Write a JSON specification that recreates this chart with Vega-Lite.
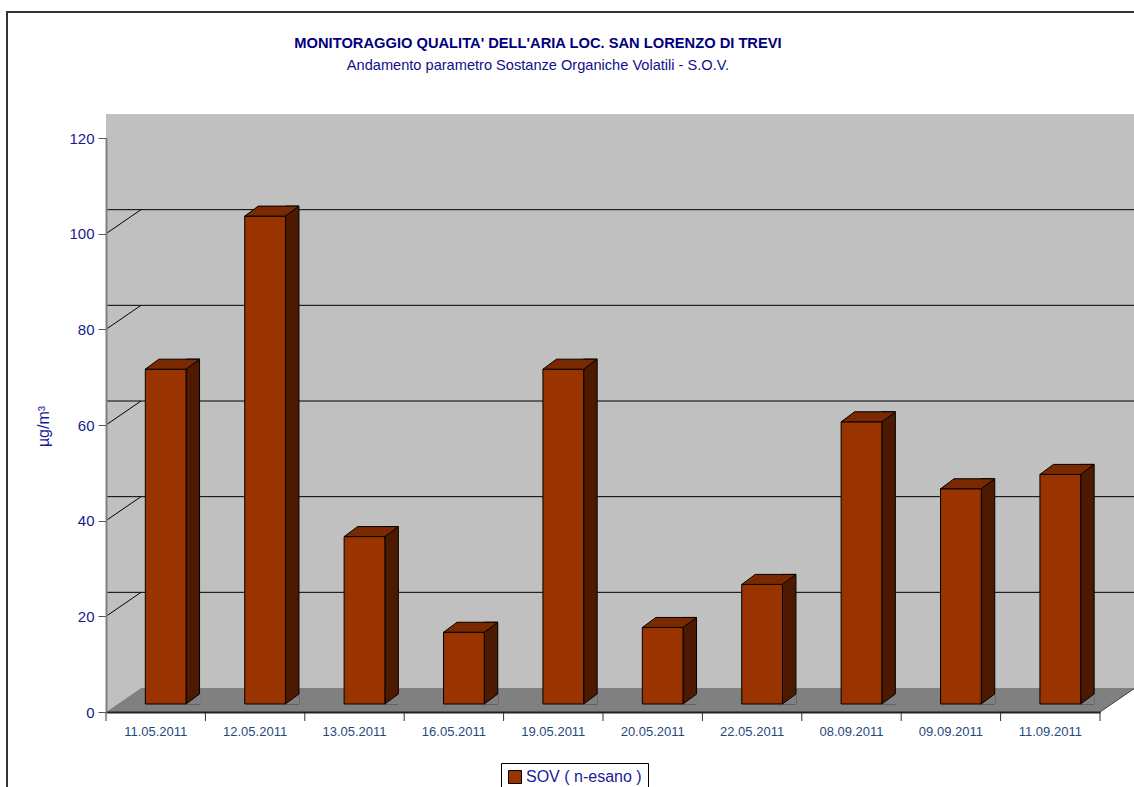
{
  "$schema": "https://vega.github.io/schema/vega-lite/v6.json",
  "width": 994,
  "height": 574,
  "autosize": {"type": "none"},
  "padding": {"left": 106, "top": 138, "right": 34, "bottom": 75},
  "background": "white",
  "config": {"font": "Liberation Sans", "view": {"stroke": null}},
  "title": {
    "text": "MONITORAGGIO QUALITA' DELL'ARIA LOC. SAN LORENZO DI TREVI",
    "subtitle": "Andamento parametro Sostanze Organiche Volatili - S.O.V.",
    "anchor": "middle",
    "dx": -65,
    "font": "Liberation Sans",
    "fontSize": 14.7,
    "fontWeight": "bold",
    "color": "#000080",
    "subtitleFont": "Liberation Sans",
    "subtitleFontSize": 14.6,
    "subtitleColor": "#10108a",
    "subtitlePadding": 7,
    "offset": -64.5
  },
  "data": {
    "values": [
      {"date": "11.05.2011", "value": 70, "series": "SOV ( n-esano )"},
      {"date": "12.05.2011", "value": 102, "series": "SOV ( n-esano )"},
      {"date": "13.05.2011", "value": 35, "series": "SOV ( n-esano )"},
      {"date": "16.05.2011", "value": 15, "series": "SOV ( n-esano )"},
      {"date": "19.05.2011", "value": 70, "series": "SOV ( n-esano )"},
      {"date": "20.05.2011", "value": 16, "series": "SOV ( n-esano )"},
      {"date": "22.05.2011", "value": 25, "series": "SOV ( n-esano )"},
      {"date": "08.09.2011", "value": 59, "series": "SOV ( n-esano )"},
      {"date": "09.09.2011", "value": 45, "series": "SOV ( n-esano )"},
      {"date": "11.09.2011", "value": 48, "series": "SOV ( n-esano )"}
    ]
  },
  "layer": [
    {
      "data": {"values": [{"k": 1}]},
      "mark": {"type": "rect", "fill": "#c0c0c0", "xOffset": 35, "x2Offset": 35, "yOffset": -24, "y2Offset": -24},
      "encoding": {
        "y": {"datum": 0, "type": "quantitative"},
        "y2": {"datum": 120}
      }
    },
    {
      "data": {"values": [{"k": 1}]},
      "mark": {"type": "point", "shape": "M0,0L0,-574L35,-598L35,-24Z", "size": 4, "filled": true, "fill": "#c0c0c0", "opacity": 1, "strokeWidth": 0},
      "encoding": {"x": {"value": 0}, "y": {"datum": 0, "type": "quantitative"}}
    },
    {
      "data": {"values": [{"k": 1}]},
      "mark": {"type": "point", "shape": "M0,0L35,-24L1029,-24L994,0Z", "size": 4, "filled": true, "fill": "#808080", "opacity": 1, "strokeWidth": 0},
      "encoding": {"x": {"value": 0}, "y": {"datum": 0, "type": "quantitative"}}
    },
    {
      "data": {"values": [{"k": 1}]},
      "mark": {"type": "point", "shape": "M994,0L1029,-24", "size": 4, "filled": false, "stroke": "#404040", "strokeWidth": 1, "opacity": 1},
      "encoding": {"x": {"value": 0}, "y": {"datum": 0, "type": "quantitative"}}
    },
    {
      "data": {"values": [{"k": 1}]},
      "mark": {"type": "point", "shape": "M-99,660L-99,-126L1040,-126", "size": 4, "filled": false, "stroke": "#333333", "strokeWidth": 2, "opacity": 1},
      "encoding": {"x": {"value": 0}, "y": {"datum": 120, "type": "quantitative"}}
    },
    {
      "data": {"values": [{"g": 20}, {"g": 40}, {"g": 60}, {"g": 80}, {"g": 100}]},
      "mark": {"type": "rule", "color": "#000000", "strokeWidth": 1, "xOffset": 35, "x2Offset": 35, "yOffset": -24},
      "encoding": {"y": {"field": "g", "type": "quantitative"}}
    },
    {
      "data": {"values": [{"g": 20}, {"g": 40}, {"g": 60}, {"g": 80}, {"g": 100}]},
      "mark": {"type": "point", "shape": "M0,0L35,-24", "size": 4, "filled": false, "stroke": "#000000", "strokeWidth": 1, "opacity": 1},
      "encoding": {"x": {"value": 0}, "y": {"field": "g", "type": "quantitative"}}
    },
    {
      "mark": {"type": "rule", "color": "#333333", "strokeWidth": 1, "y2Offset": 9},
      "encoding": {
        "x": {"field": "date", "type": "nominal", "sort": null, "bandPosition": 0},
        "y": {"datum": 0, "type": "quantitative"},
        "y2": {"datum": 0}
      }
    },
    {
      "data": {"values": [{"k": 1}]},
      "mark": {"type": "rule", "color": "#333333", "strokeWidth": 1, "y2Offset": 9},
      "encoding": {
        "x": {"datum": "11.09.2011", "type": "nominal", "bandPosition": 1},
        "y": {"datum": 0, "type": "quantitative"},
        "y2": {"datum": 0}
      }
    },
    {
      "mark": {"type": "bar", "fill": "#4d1900", "stroke": "#000000", "strokeWidth": 1, "width": {"band": 0.136}, "xOffset": 37.1, "yOffset": -18, "y2Offset": -8},
      "encoding": {
        "x": {"field": "date", "type": "nominal", "sort": null},
        "y": {"field": "value", "type": "quantitative"},
        "y2": {"datum": 0}
      }
    },
    {
      "mark": {"type": "point", "shape": "M30.35,-8L44.5,-18.5L44.5,-7.5L30.35,-7.5Z", "size": 4, "filled": true, "fill": "#808080", "opacity": 1, "strokeWidth": 0},
      "encoding": {
        "x": {"field": "date", "type": "nominal", "sort": null},
        "y": {"datum": 0, "type": "quantitative"}
      }
    },
    {
      "mark": {"type": "point", "shape": "M30.35,-8L43.85,-18", "size": 4, "filled": false, "stroke": "#000000", "strokeWidth": 1, "opacity": 1},
      "encoding": {
        "x": {"field": "date", "type": "nominal", "sort": null},
        "y": {"datum": 0, "type": "quantitative"}
      }
    },
    {
      "mark": {"type": "bar", "stroke": "#000000", "strokeWidth": 1, "width": {"band": 0.41}, "xOffset": 10, "yOffset": -8, "y2Offset": -8, "opacity": 1},
      "encoding": {
        "x": {
          "field": "date", "type": "nominal", "sort": null,
          "scale": {"paddingInner": 0, "paddingOuter": 0},
          "axis": {"title": null, "labelAngle": 0, "labelAlign": "center", "labelBaseline": "top", "bandPosition": 0.5, "ticks": false, "tickSize": 0, "labelFontSize": 13, "labelFont": "Liberation Sans", "labelColor": "#1f497d", "domainColor": "#222222", "domainWidth": 2, "labelPadding": 13, "zindex": 1}
        },
        "y": {
          "field": "value", "type": "quantitative",
          "scale": {"domain": [0, 120], "nice": false, "zero": true},
          "axis": {"values": [0, 20, 40, 60, 80, 100, 120], "title": "µg/m³", "titleFont": "Liberation Sans", "titleFontSize": 16, "titleFontWeight": "normal", "titleColor": "#1a1a9a", "titleX": -58, "titleY": 288, "titleAngle": 270, "titleBaseline": "alphabetic", "titleAlign": "center", "labelFont": "Liberation Sans", "labelFontSize": 15, "labelColor": "#1a1a8c", "domainColor": "#808080", "domainWidth": 2, "tickColor": "#555555", "tickSize": 8, "labelPadding": 4, "grid": false, "zindex": 1}
        },
        "y2": {"datum": 0},
        "color": {
          "field": "series", "type": "nominal",
          "scale": {"range": ["#993300"]},
          "legend": {"orient": "none", "legendX": 395, "legendY": 625, "title": null, "padding": 6, "strokeColor": "#000000", "fillColor": "#ffffff", "symbolType": "square", "symbolSize": 169, "symbolStrokeColor": "#000000", "symbolStrokeWidth": 1, "symbolOpacity": 1, "labelFontSize": 16, "labelFont": "Liberation Sans", "labelColor": "#1a1a9a", "labelOffset": 3}
        }
      }
    },
    {
      "mark": {"type": "point", "shape": "M-10.35,-8L30.35,-8L43.85,-18L3.15,-18Z", "size": 4, "filled": true, "fill": "#7a2900", "stroke": "#000000", "strokeWidth": 1, "opacity": 1},
      "encoding": {
        "x": {"field": "date", "type": "nominal", "sort": null},
        "y": {"field": "value", "type": "quantitative"}
      }
    }
  ]
}
